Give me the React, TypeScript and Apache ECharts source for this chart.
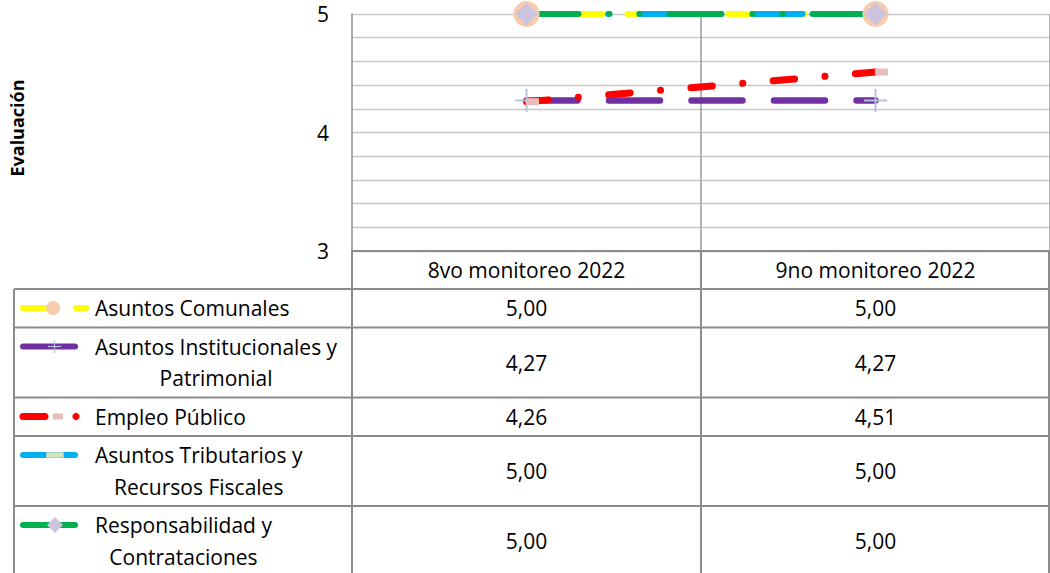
import React, { useEffect, useRef } from 'react';
import * as echarts from 'echarts';

// ---------- data ----------
const categories = ['8vo monitoreo 2022', '9no monitoreo 2022'];
const seriesNames = [
  'Asuntos Comunales',
  'Asuntos Institucionales y Patrimonial',
  'Empleo Público',
  'Asuntos Tributarios y Recursos Fiscales',
  'Responsabilidad y Contrataciones',
];
const seriesLabelLines = [
  ['Asuntos Comunales'],
  ['Asuntos Institucionales y', 'Patrimonial'],
  ['Empleo Público'],
  ['Asuntos Tributarios y', 'Recursos Fiscales'],
  ['Responsabilidad y', 'Contrataciones'],
];
const asuntosComunales = [5.0, 5.0];
const asuntosInstitucionales = [4.27, 4.27];
const empleoPublico = [4.26, 4.51];
const asuntosTributarios = [5.0, 5.0];
const responsabilidad = [5.0, 5.0];
const seriesValues = [asuntosComunales, asuntosInstitucionales, empleoPublico, asuntosTributarios, responsabilidad];
const yMin = 3;
const yMax = 5;
const yStep = 0.2;
const yAxisTitle = 'Evaluación';

// ---------- styles ----------
const FONT = '"Open Sans", sans-serif';
const FS = 21;
const PLUS = 'path://M11,0H13V11H24V13H13V24H11V13H0V11H11Z';

const seriesStyles: any[] = [
  { color: '#FFFF00', width: 6, dash: [76, 25], symbol: 'circle', size: 26, mColor: '#F8CBAD', offset: [0, 0] },
  { color: '#7030A0', width: 6.5, dash: [51, 31.5], symbol: PLUS, size: 23, mColor: '#B4C2DE', offset: [0, 0] },
  { color: '#FF0000', width: 7, dash: [21.5, 30.5, 0.01, 30.5], symbol: 'rect', size: [13, 7], mColor: '#E6BDBD', offset: [6, 0] },
  { color: '#00B0F0', width: 6, dash: [50, 31.5, 0.01, 31.5], symbol: 'rect', size: [17, 5], mColor: '#D7E4BD', offset: [0, 0] },
  { color: '#00B050', width: 6, dash: [52, 31, 0.01, 30, 0.01, 30], symbol: 'diamond', size: 23, mColor: '#CCC3DC', offset: [0, 0] },
];

const fmt = (v: number) => v.toFixed(2).replace('.', ',');

function measure(text: string, font: string) {
  const c = document.createElement('canvas').getContext('2d');
  if (!c) return text.length * FS * 0.5;
  c.font = font;
  return c.measureText(text).width;
}

function keyElements(i: number, y: number): any[] {
  const s = seriesStyles[i];
  const els: any[] = [];
  const seg = (x1: number, x2: number, w: number) =>
    els.push({ type: 'line', shape: { x1, y1: y, x2, y2: y }, style: { stroke: s.color, lineWidth: w, lineCap: 'round' }, z: 20 });
  if (i === 0) {
    seg(23, 52, 6);
    seg(76, 86, 6);
    els.push({ type: 'circle', shape: { cx: 53, cy: y, r: 7 }, style: { fill: s.mColor }, z: 21 });
  } else if (i === 1) {
    seg(23, 75, 6);
    els.push({ type: 'rect', shape: { x: 48, y: y - 0.6, width: 13, height: 1.2 }, style: { fill: s.mColor }, z: 21 });
    els.push({ type: 'rect', shape: { x: 53.9, y: y - 6.5, width: 1.2, height: 13 }, style: { fill: s.mColor }, z: 21 });
  } else if (i === 2) {
    seg(23, 45, 7);
    els.push({ type: 'rect', shape: { x: 53, y: y - 3, width: 10, height: 6 }, style: { fill: s.mColor }, z: 21 });
    els.push({ type: 'circle', shape: { cx: 76, cy: y, r: 3.6 }, style: { fill: s.color }, z: 21 });
  } else if (i === 3) {
    seg(23, 75, 6);
    els.push({ type: 'rect', shape: { x: 46.5, y: y - 2.5, width: 17, height: 5 }, style: { fill: s.mColor, stroke: '#C9D3B5', lineWidth: 0.5 }, z: 21 });
  } else {
    seg(23, 75, 6);
    els.push({ type: 'polygon', shape: { points: [[55, y - 8], [63, y], [55, y + 8], [47, y]] }, style: { fill: s.mColor }, z: 21 });
  }
  return els;
}

export default function App() {
  const ref = useRef<HTMLDivElement>(null);
  useEffect(() => {
    if (!ref.current) return;
    const chart = echarts.init(ref.current, null, { renderer: 'svg' });

    const lineSeries = seriesNames.map((name, i) => ({
      name,
      type: 'line',
      data: seriesValues[i],
      symbol: 'none',
      z: 2,
      lineStyle: { color: seriesStyles[i].color, width: seriesStyles[i].width, type: seriesStyles[i].dash, cap: 'round' },
      silent: true,
    }));
    const markerSeries = seriesNames.map((name, i) => ({
      name: name + ' marker',
      type: 'scatter',
      data: seriesValues[i],
      symbol: seriesStyles[i].symbol,
      symbolSize: seriesStyles[i].size,
      symbolOffset: seriesStyles[i].offset,
      z: 3,
      itemStyle: { color: seriesStyles[i].mColor, opacity: 1 },
      silent: true,
    }));

    chart.setOption({
      animation: false,
      backgroundColor: '#ffffff',
      grid: { left: 352, top: 14, width: 700, height: 237 },
      xAxis: {
        type: 'category',
        data: categories,
        boundaryGap: true,
        axisLine: { show: true, lineStyle: { color: '#8c8c8c', width: 2 } },
        axisTick: { show: false },
        axisLabel: { show: false },
        splitLine: { show: true, lineStyle: { color: '#9a9a9a', width: 1.5 } },
      },
      yAxis: {
        type: 'value',
        min: yMin,
        max: yMax,
        interval: yStep,
        axisLine: { show: true, lineStyle: { color: '#a6a6a6', width: 1.5 } },
        axisTick: { show: false },
        axisLabel: {
          margin: 23,
          color: '#000',
          fontSize: FS,
          fontFamily: FONT,
          formatter: (v: number) => (Math.abs(v - Math.round(v)) < 1e-6 ? String(Math.round(v)) : ''),
        },
        splitLine: { show: true, lineStyle: { color: '#c8c8c8', width: 1.3 } },
      },
      series: [...lineSeries, ...markerSeries],
    });

    // ----- data table built from the axes -----
    const cx = categories.map((_, i) => chart.convertToPixel({ xAxisIndex: 0 }, i) as number);
    const band = cx.length > 1 ? cx[1] - cx[0] : 700;
    const yBottom = chart.convertToPixel({ yAxisIndex: 0 }, yMin) as number;
    const plotLeft = cx[0] - band / 2;
    const tableLeft = 14;
    const tableRight = Math.min(cx[cx.length - 1] + band / 2, 1049);
    const headerBottom = 289;
    const tableBottom = 580;
    const stroke = '#8c8c8c';
    const g: any[] = [];
    const hLine = (x1: number, x2: number, y: number) =>
      g.push({ type: 'line', shape: { x1, y1: y, x2, y2: y }, style: { stroke, lineWidth: 1.8 }, z: 10 });
    const vLine = (x: number, y1: number, y2: number, w = 2, c = stroke) =>
      g.push({ type: 'line', shape: { x1: x, y1, x2: x, y2 }, style: { stroke: c, lineWidth: w }, z: 10 });

    const text = (t: string, x: number, y: number, extra: any = {}) =>
      g.push({
        type: 'text',
        x,
        y,
        z: 12,
        style: { text: t, fill: '#000', fontSize: FS, fontFamily: FONT, align: 'center', verticalAlign: 'middle', ...extra },
      });

    // header row (category labels)
    categories.forEach((c, i) => text(c, cx[i], (yBottom + headerBottom) / 2));
    hLine(tableLeft, tableRight, headerBottom);

    // body rows
    let top = headerBottom;
    seriesNames.forEach((_, i) => {
      const lines = seriesLabelLines[i];
      const h = 38.5 + (lines.length - 1) * 31.5;
      const maxW = Math.max(...lines.map((l) => measure(l, `${FS}px "Open Sans"`)));
      const tx = 95 + maxW / 2;
      lines.forEach((l, j) => text(l, tx, top + 19 + j * 31.5));
      g.push(...keyElements(i, top + 19));
      seriesValues[i].forEach((v, k) => text(fmt(v), cx[k], top + h / 2));
      top += h;
      hLine(tableLeft, tableRight, top);
    });

    // vertical borders
    vLine(tableLeft, headerBottom, tableBottom);
    vLine(plotLeft, yBottom, tableBottom);
    for (let k = 1; k < cx.length; k++) vLine(cx[k] - band / 2, yBottom, tableBottom);
    vLine(tableRight, yBottom, tableBottom);

    // axis title
    g.push({
      type: 'text',
      x: 17,
      y: 128,
      rotation: Math.PI / 2,
      z: 12,
      style: { text: yAxisTitle, fill: '#000', fontSize: 18, fontWeight: 'bold', fontFamily: FONT, align: 'center', verticalAlign: 'middle' },
    });

    chart.setOption({ graphic: g });

    return () => chart.dispose();
  }, []);

  return <div ref={ref} style={{ position: 'fixed', left: 0, top: 0, width: 1050, height: 573 }} />;
}
